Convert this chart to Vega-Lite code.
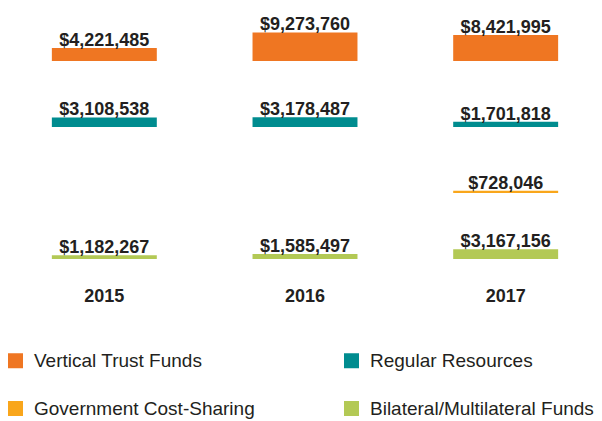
{
  "$schema": "https://vega.github.io/schema/vega-lite/v6.json",
  "padding": {"left": 4, "top": 1, "right": 0, "bottom": 0},
  "data": {"values": [
    {"year": "2015", "category": "Vertical Trust Funds", "value": 4221485},
    {"year": "2016", "category": "Vertical Trust Funds", "value": 9273760},
    {"year": "2017", "category": "Vertical Trust Funds", "value": 8421995},
    {"year": "2015", "category": "Regular Resources", "value": 3108538},
    {"year": "2016", "category": "Regular Resources", "value": 3178487},
    {"year": "2017", "category": "Regular Resources", "value": 1701818},
    {"year": "2017", "category": "Government Cost-Sharing", "value": 728046},
    {"year": "2015", "category": "Bilateral/Multilateral Funds", "value": 1182267},
    {"year": "2016", "category": "Bilateral/Multilateral Funds", "value": 1585497},
    {"year": "2017", "category": "Bilateral/Multilateral Funds", "value": 3167156}
  ]},
  "facet": {
    "row": {
      "field": "category", "type": "nominal", "title": null,
      "sort": ["Vertical Trust Funds", "Regular Resources", "Government Cost-Sharing", "Bilateral/Multilateral Funds"],
      "header": {"labels": false, "title": null}
    }
  },
  "spacing": {"row": 6},
  "spec": {
    "width": 602,
    "height": 60,
    "encoding": {
      "x": {
        "field": "year", "type": "ordinal", "title": null,
        "scale": {"domain": ["2015", "2016", "2017"], "paddingInner": 0.477, "paddingOuter": 0.2385},
        "axis": {"orient": "bottom", "domain": false, "ticks": false, "labelAngle": 0, "labelPadding": 28,
                 "labelFont": "Liberation Sans", "labelFontWeight": "bold", "labelFontSize": 18, "labelColor": "#231f20"}
      },
      "y": {"field": "value", "type": "quantitative", "scale": {"domain": [0, 19500000]}, "axis": null}
    },
    "layer": [
      {
        "mark": {"type": "bar"},
        "encoding": {
          "color": {
            "field": "category", "type": "nominal",
            "sort": ["Vertical Trust Funds", "Regular Resources", "Government Cost-Sharing", "Bilateral/Multilateral Funds"],
            "scale": {
              "domain": ["Vertical Trust Funds", "Regular Resources", "Government Cost-Sharing", "Bilateral/Multilateral Funds"],
              "range": ["#EF7622", "#008C8F", "#F9A61B", "#B3C955"]
            },
            "legend": {
              "orient": "none", "legendX": 2, "legendY": 350, "title": null, "columns": 2, "padding": 0,
              "direction": "horizontal",
              "symbolType": "square", "symbolSize": 225, "symbolStrokeWidth": 0, "symbolOpacity": 1,
              "labelFont": "Liberation Sans", "labelFontSize": 19, "labelColor": "#231f20",
              "labelOffset": 9, "columnPadding": 87, "rowPadding": 28, "labelLimit": 400
            }
          }
        }
      },
      {
        "mark": {"type": "text", "baseline": "alphabetic", "dy": -2, "font": "Liberation Sans",
                 "fontWeight": "bold", "fontSize": 18, "color": "#231f20"},
        "encoding": {
          "text": {"field": "value", "type": "quantitative", "format": "$,.0f"}
        }
      }
    ]
  },
  "config": {"view": {"stroke": null}}
}
